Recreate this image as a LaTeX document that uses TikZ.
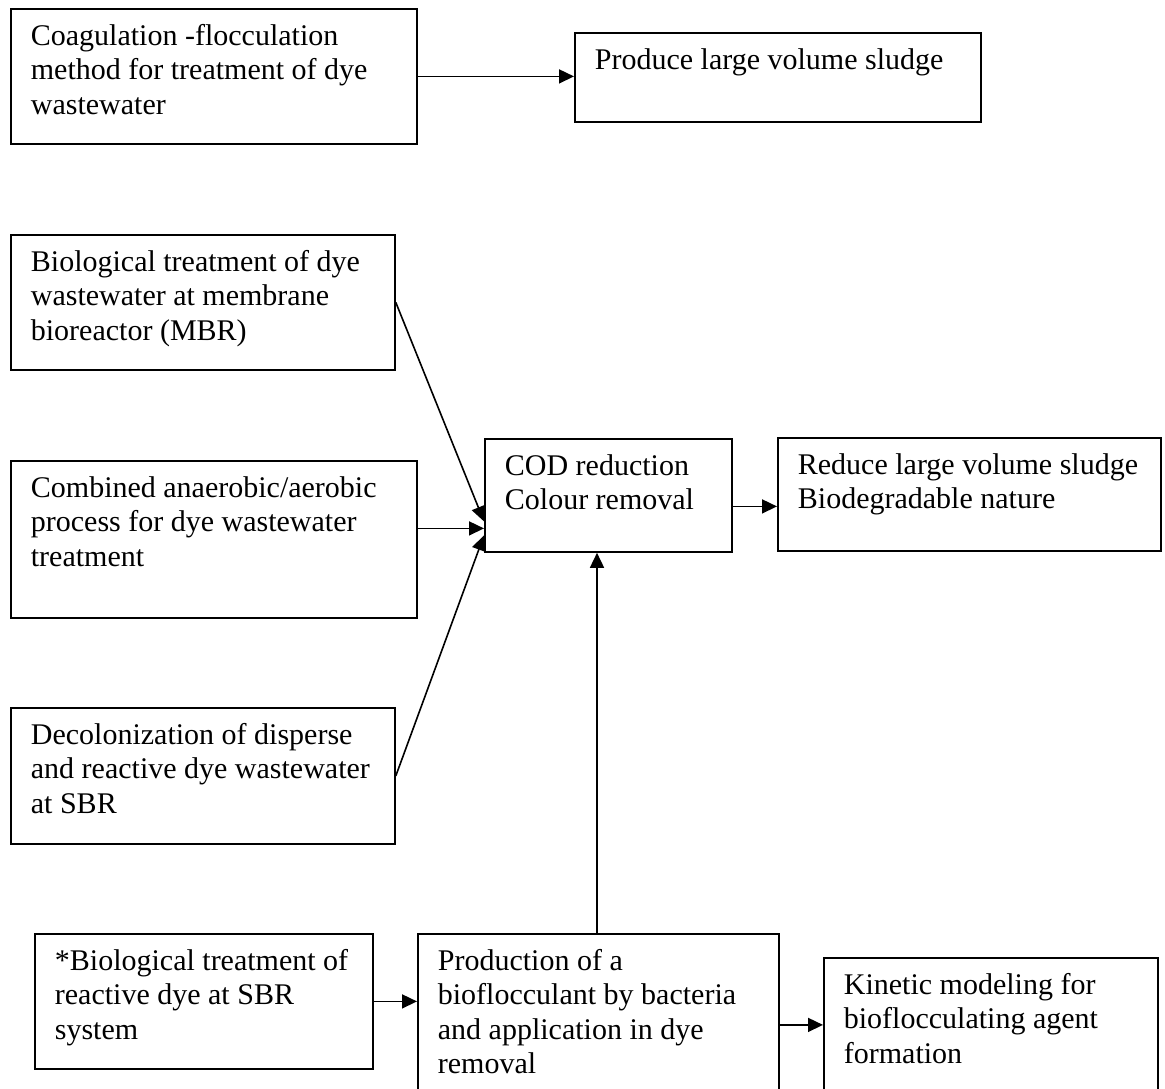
\documentclass[tikz,border=0pt]{standalone}
\usepackage{fontspec}
\setmainfont{Liberation Serif}
\usetikzlibrary{arrows.meta}
\newcommand{\boxlines}[3]{\parbox[t][#2][t]{#1}{\begin{tabular}[t]{@{}l@{}}#3\end{tabular}}}
\tikzset{
    flowbox/.style={draw, line width=1.8pt, anchor=north west, inner xsep=20pt, inner ysep=12pt,
        font=\fontsize{30}{34.5}\selectfont},
    flowarrow/.style={line width=1.6pt, -{Triangle[length=15pt,width=14pt]}}
}
\begin{document}
\begin{tikzpicture}[x=1pt,y=-1pt]
    \clip (0,0) rectangle (1165,1088);
    \fill[white] (0,0) rectangle (1165,1088);

    % top row
    \node[flowbox] (coag) at (10,8) {\boxlines{366pt}{111pt}{Coagulation -flocculation\\method for treatment of dye\\wastewater}};
    \node[flowbox] (sludge) at (574,32) {\boxlines{366pt}{65pt}{Produce large volume sludge}};

    % left column
    \node[flowbox] (mbr) at (10,234) {\boxlines{344pt}{111pt}{Biological treatment of dye\\wastewater at membrane\\bioreactor (MBR)}};
    \node[flowbox] (anaer) at (10,460) {\boxlines{366pt}{133pt}{Combined anaerobic/aerobic\\process for dye wastewater\\treatment}};
    \node[flowbox] (decol) at (10,707) {\boxlines{344pt}{112pt}{Decolonization of disperse\\and reactive dye wastewater\\at SBR}};

    % results
    \node[flowbox] (cod) at (484,438) {\boxlines{207pt}{89pt}{COD reduction\\Colour removal}};
    \node[flowbox] (reduce) at (777,437) {\boxlines{343pt}{89pt}{Reduce large volume sludge\\Biodegradable nature}};

    % bottom row
    \node[flowbox] (sbr) at (34,933) {\boxlines{298pt}{111pt}{*Biological treatment of\\reactive dye at SBR\\system}};
    \node[flowbox] (floc) at (417,933) {\boxlines{321pt}{138pt}{Production of a\\bioflocculant by bacteria\\and application in dye\\removal}};
    \node[flowbox] (kinetic) at (823,957) {\boxlines{294pt}{114pt}{Kinetic modeling for\\bioflocculating agent\\formation}};

    % arrows
    \draw[flowarrow] (coag.east) -- (coag.east -| sludge.west);
    \draw[flowarrow] (mbr.east) -- ([yshift=-26pt]cod.west);
    \draw[flowarrow] ([yshift=-33pt]cod.west -| anaer.east) -- ([yshift=-33pt]cod.west);
    \draw[flowarrow] (decol.east) -- ([yshift=-40pt]cod.west);
    \draw[flowarrow] ([yshift=-11pt]cod.east) -- ([yshift=-11pt]cod.east -| reduce.west);
    \draw[flowarrow] (floc.north -| 597,0) -- (cod.south -| 597,0);
    \draw[flowarrow] (sbr.east) -- (sbr.east -| floc.west);
    \draw[flowarrow] ([yshift=-10pt]floc.east) -- ([yshift=-10pt]floc.east -| kinetic.west);
\end{tikzpicture}
\end{document}
